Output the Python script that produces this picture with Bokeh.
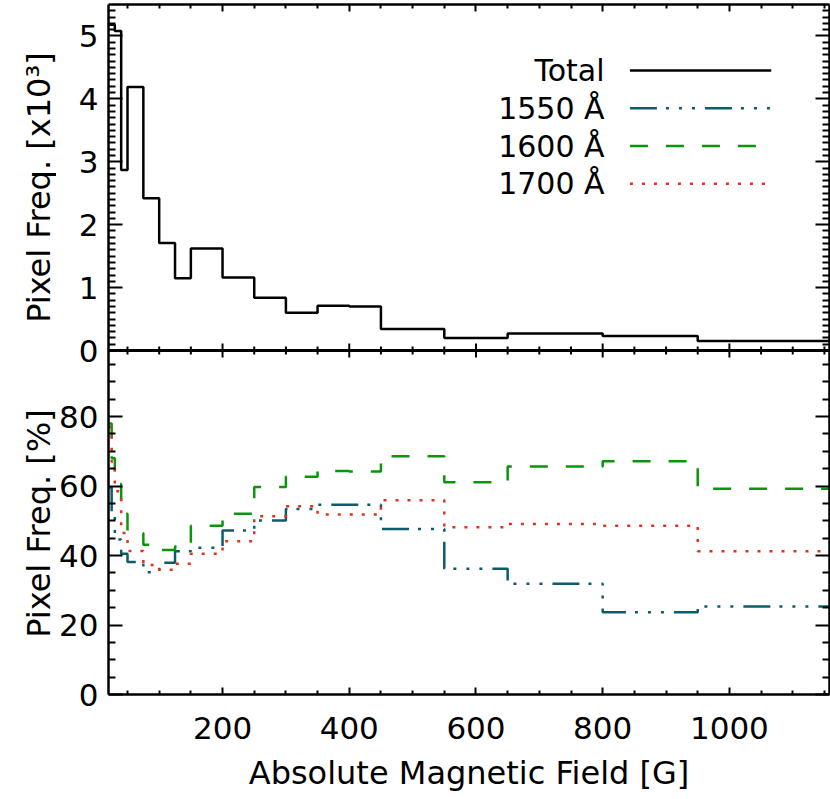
import math
from bokeh.plotting import figure
from bokeh.models import (Range1d, FixedTicker, LinearAxis, Span,
                          CustomJSTickFormatter, CustomLabelingPolicy)
from bokeh.layouts import row
from bokeh.embed import file_html
from bokeh.resources import INLINE
from bokeh.core.properties import value

# ---------------- data ----------------
bin_edges = [20, 25, 30, 40, 50, 75, 100, 125, 150, 200, 250, 300, 350, 400,
             450, 550, 650, 800, 950, 1200]
total_k = [5.18, 5.18, 5.08, 2.87, 4.19, 2.42, 1.71, 1.15, 1.62, 1.16, 0.84,
           0.60, 0.71, 0.70, 0.34, 0.20, 0.27, 0.23, 0.15]
pct_1550 = [59.6, 51.5, 44.6, 40.5, 38.1, 35.2, 37.9, 41.2, 42.2, 47.2, 50.1,
            53.4, 54.6, 54.6, 47.6, 36.2, 31.9, 23.7, 25.3]
pct_1600 = [78.0, 68.0, 60.6, 52.0, 46.5, 43.1, 41.6, 42.6, 48.6, 52.0, 59.7,
            62.7, 64.3, 64.2, 68.6, 61.1, 65.6, 67.1, 59.2]
pct_1700 = [77.0, 67.0, 58.5, 46.5, 41.3, 37.3, 35.9, 37.6, 40.5, 44.1, 51.3,
            54.2, 51.8, 51.8, 55.9, 48.1, 49.1, 48.6, 41.2]

series_labels = ["Total", "1550 \u00c5", "1600 \u00c5", "1700 \u00c5"]
x_tick_labels = [200, 400, 600, 800, 1000]
upper_y_ticks = [0, 1, 2, 3, 4, 5]
lower_y_ticks = [0, 20, 40, 60, 80]
upper_title = "Pixel Freq. [x10\u00b3]"
lower_title = "Pixel Freq. [%]"
x_title = "Absolute Magnetic Field [G]"

# ---------------- styles / layout ----------------
FONT = "DejaVu Sans"
TICK_FS = "31px"
TITLE_FS = "32px"
LEG_FS = "30px"
styles = [
    dict(color="black", dash="solid", width=2.5),
    dict(color="#0d5c6c", dash="27 9 3 10 3 10 3 10", width=2.5),
    dict(color="#0a960a", dash="18 18", width=2.5),
    dict(color="#e0321c", dash="3 9", width=2.5),
]

X_RANGE = (20, 1158)
FRAME_W = 721
TITLE_W = 56                     # strip holding the two vertical titles
LEFT = 107 - TITLE_W
UP_PX, LO_PX = 346, 344          # heights of the two stacked panels
UP_TOP = 5.5                     # upper panel y max (x10^3)
LO_TOP = 99.0                    # lower panel y max (%)
U0 = -UP_TOP * LO_PX / UP_PX     # main range start so that 0 sits at the divider
P1 = LO_TOP * (UP_PX + LO_PX) / LO_PX
PX_PER_U = UP_PX / UP_TOP


def pct_to_main(p):
    return U0 + p * (UP_TOP - U0) / P1


x_minor = [m for m in range(50, 1200, 50) if m not in x_tick_labels]
up_minor = [i / 10 for i in range(1, 55) if i % 10]
lo_minor = [m for m in range(5, 100, 5) if m % 20]

y_major = upper_y_ticks + [pct_to_main(t) for t in lower_y_ticks]
y_minor = up_minor + [pct_to_main(t) for t in lo_minor]


def style_axis(ax, major, minor, tin, tmin, labels):
    ax.ticker = FixedTicker(ticks=major, minor_ticks=minor)
    ax.axis_line_width = 2.5
    ax.axis_line_color = "black"
    ax.major_tick_in = tin
    ax.major_tick_out = 0
    ax.minor_tick_in = tmin
    ax.minor_tick_out = 0
    ax.major_tick_line_width = 2
    ax.minor_tick_line_width = 2
    ax.major_tick_line_color = "black"
    ax.minor_tick_line_color = "black"
    ax.axis_label_text_font = FONT
    ax.axis_label_text_font_style = "normal"
    ax.axis_label_text_font_size = TITLE_FS
    ax.axis_label_text_color = "black"
    ax.major_label_text_font = FONT
    ax.major_label_text_color = "black"
    if labels:
        ax.major_label_text_font_size = TICK_FS
    else:
        ax.major_label_text_font_size = "1px"
        ax.major_label_standoff = 0
        ax.major_label_policy = CustomLabelingPolicy(code="return []")


p = figure(frame_width=FRAME_W, frame_height=UP_PX + LO_PX,
           x_range=Range1d(*X_RANGE), y_range=Range1d(U0, UP_TOP),
           output_backend="svg", toolbar_location=None,
           min_border_left=LEFT, min_border_right=2, min_border_top=2,
           min_border_bottom=2)
p.extra_y_ranges = {"pct": Range1d(0, P1)}
p.outline_line_color = None
p.grid.visible = False
p.background_fill_color = "white"
p.border_fill_color = "white"

# bottom axis (labelled)
style_axis(p.xaxis[0], x_tick_labels, x_minor, 7, 4, True)
p.xaxis[0].axis_label = x_title
p.xaxis[0].major_label_standoff = 22
p.xaxis[0].axis_label_standoff = 12

# left axis: both panels, labels converted back to each panel's units
style_axis(p.yaxis[0], y_major, y_minor, 14, 7, True)
p.yaxis[0].major_label_standoff = 10
p.yaxis[0].formatter = CustomJSTickFormatter(
    args=dict(u0=U0, top=UP_TOP, p1=P1),
    code="""
    if (tick > -1e-6) { return Math.round(tick).toString() }
    const v = (tick - u0) * p1 / (top - u0)
    return Math.round(v).toString()
""")

ax_top = LinearAxis()
style_axis(ax_top, x_tick_labels, x_minor, 7, 4, False)
p.add_layout(ax_top, "above")
ax_r = LinearAxis()
style_axis(ax_r, y_major, y_minor, 14, 7, False)
p.add_layout(ax_r, "right")

# divider between the panels, with its ticks pointing both ways
p.add_layout(Span(location=0, dimension="width", line_color="black",
                  line_width=3))
maj_h = 7 / PX_PER_U
min_h = 4 / PX_PER_U
p.segment(x0=x_tick_labels, x1=x_tick_labels,
          y0=[-maj_h] * len(x_tick_labels), y1=[maj_h] * len(x_tick_labels),
          line_color="black", line_width=2)
p.segment(x0=x_minor, x1=x_minor, y0=[-min_h] * len(x_minor),
          y1=[min_h] * len(x_minor), line_color="black", line_width=2)

# upper panel: total histogram
st = styles[0]
p.step(x=bin_edges, y=total_k + [total_k[-1]], mode="after",
       line_color=st["color"], line_width=st["width"])

# legend (label left, sample line right, no box)
leg_rows = [4.45, 3.85, 3.25, 2.65]
leg_text_x = 803
leg_line_x = [843, 1066]
p.text(x=[leg_text_x] * 4, y=leg_rows, text=series_labels,
       text_align="right", text_baseline="middle",
       text_font=value(FONT), text_font_size=LEG_FS, text_color="black")
for r, st in zip(leg_rows, styles):
    p.line(x=leg_line_x, y=[r, r], line_color=st["color"],
           line_width=st["width"], line_dash=st["dash"])

# lower panel: percentages
for vals, st in zip([pct_1550, pct_1600, pct_1700], styles[1:]):
    p.step(x=bin_edges, y=vals + [vals[-1]], mode="after",
           y_range_name="pct", line_color=st["color"],
           line_width=st["width"], line_dash=st["dash"])

# ---------------- title strip (vertical panel titles) ----------------
t = figure(frame_width=TITLE_W, frame_height=UP_PX + LO_PX,
           x_range=Range1d(0, TITLE_W), y_range=Range1d(U0, UP_TOP),
           output_backend="svg", toolbar_location=None,
           x_axis_location=None, y_axis_location=None,
           min_border_left=0, min_border_right=0, min_border_top=2,
           min_border_bottom=0)
t.extra_y_ranges = {"pct": Range1d(0, P1)}
t.outline_line_color = None
t.grid.visible = False
t.background_fill_color = "white"
t.border_fill_color = "white"
t.text(x=[38], y=[2.59], text=[upper_title], angle=math.pi / 2,
       text_align="center", text_baseline="middle",
       text_font=value(FONT), text_font_size=TITLE_FS, text_color="black")
t.text(x=[38], y=[49.2], text=[lower_title], angle=math.pi / 2,
       y_range_name="pct", text_align="center", text_baseline="middle",
       text_font=value(FONT), text_font_size=TITLE_FS, text_color="black")

layout = row(t, p, spacing=0)
open("out.html", "w").write(file_html(layout, INLINE))
